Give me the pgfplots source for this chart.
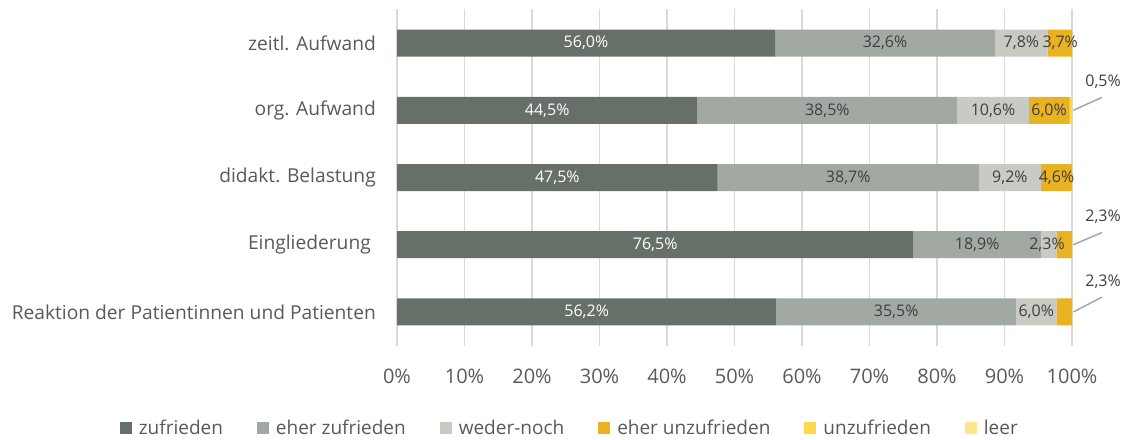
\documentclass[border=0pt]{standalone}
\usepackage{fontspec}
\setmainfont{Open Sans}
\usepackage{pgfplots}
\pgfplotsset{compat=1.18}
\definecolor{c1}{HTML}{667068}
\definecolor{c2}{HTML}{A2A9A3}
\definecolor{c3}{HTML}{C9CAC4}
\definecolor{c4}{HTML}{E9B221}
\definecolor{c5}{HTML}{FFD84E}
\definecolor{c6}{HTML}{FFE48C}
\definecolor{gridc}{HTML}{D9D9D9}
\definecolor{txt}{HTML}{595959}
\definecolor{dtxt}{HTML}{404040}
\definecolor{linec}{HTML}{A6A6A6}
\begin{document}
\begin{tikzpicture}[x=1pt,y=1pt]
\useasboundingbox (0,0) rectangle (1123,439);
\begin{axis}[
  at={(397pt,93.4pt)}, anchor=south west, scale only axis,
  width=675pt, height=336.2pt,
  xbar stacked, bar width=27pt,
  xmin=0, xmax=100, ymin=-0.5, ymax=4.5,
  xtick={0,10,20,30,40,50,60,70,80,90,100},
  xticklabels={0\%,10\%,20\%,30\%,40\%,50\%,60\%,70\%,80\%,90\%,100\%},
  ytick={0,1,2,3,4},
  yticklabels={Reaktion der Patientinnen und Patienten,Eingliederung\hspace*{5pt},didakt. Belastung,org. Aufwand,zeitl. Aufwand},
  axis line style={draw=none},
  tick style={draw=none},
  xmajorgrids, grid style={color=gridc, line width=1.5pt},
  xticklabel style={font=\fontsize{20}{24}\selectfont, text=txt, inner sep=0pt, anchor=north, yshift=-23pt},
  yticklabel style={font=\fontsize{19.2}{22}\selectfont, text=txt, inner sep=0pt, anchor=east, xshift=-21pt},
  legend columns=6,
  legend style={draw=none, fill=none, at={(0.256,-0.245)}, anchor=center,
    font=\fontsize{19}{22}\selectfont, text=txt,
    /tikz/every odd column/.append style={column sep=5pt},
    /tikz/every even column/.append style={column sep=32pt}},
  legend cell align=left,
]
\addplot[fill=c1, draw=none, legend image code/.code={\fill[c1] (0pt,-6pt) rectangle (12pt,6pt);}]
  coordinates {(56.0,4) (44.5,3) (47.5,2) (76.5,1) (56.2,0)};
\addlegendentry{zufrieden}
\addplot[fill=c2, draw=none, legend image code/.code={\fill[c2] (0pt,-6pt) rectangle (12pt,6pt);}]
  coordinates {(32.6,4) (38.5,3) (38.7,2) (18.9,1) (35.5,0)};
\addlegendentry{eher zufrieden}
\addplot[fill=c3, draw=none, legend image code/.code={\fill[c3] (0pt,-6pt) rectangle (12pt,6pt);}]
  coordinates {(7.8,4) (10.6,3) (9.2,2) (2.3,1) (6.0,0)};
\addlegendentry{weder-noch}
\addplot[fill=c4, draw=none, legend image code/.code={\fill[c4] (0pt,-6pt) rectangle (12pt,6pt);}]
  coordinates {(3.7,4) (6.0,3) (4.6,2) (2.3,1) (2.3,0)};
\addlegendentry{eher unzufrieden}
\addplot[fill=c5, draw=none, legend image code/.code={\fill[c5] (0pt,-6pt) rectangle (12pt,6pt);}]
  coordinates {(0,4) (0.5,3) (0,2) (0,1) (0,0)};
\addlegendentry{unzufrieden}
\addplot[fill=c6, draw=none, legend image code/.code={\fill[c6] (0pt,-6pt) rectangle (12pt,6pt);}]
  coordinates {(0,4) (0,3) (0,2) (0,1) (0,0)};
\addlegendentry{leer}
\end{axis}
\begin{axis}[
  at={(397pt,93.4pt)}, anchor=south west, scale only axis,
  width=675pt, height=336.2pt,
  xmin=0, xmax=100, ymin=-0.5, ymax=4.5,
  hide axis, clip=false,
]
% labels on dark segments
\addplot[draw=none, nodes near coords, point meta=explicit symbolic,
  every node near coord/.append style={anchor=center, text=white, font=\fontsize{16}{19}\selectfont}]
  coordinates {(28.0,4) [56,0\%] (22.25,3) [44,5\%] (23.75,2) [47,5\%] (38.25,1) [76,5\%] (28.1,0) [56,2\%]};
% labels on light segments
\addplot[draw=none, nodes near coords, point meta=explicit symbolic,
  every node near coord/.append style={anchor=center, text=dtxt, font=\fontsize{16}{19}\selectfont}]
  coordinates {(72.3,4) [32,6\%] (63.75,3) [38,5\%] (66.85,2) [38,7\%] (85.95,1) [18,9\%] (73.95,0) [35,5\%]
               (92.5,4) [7,8\%] (88.3,3) [10,6\%] (90.8,2) [9,2\%] (96.3,1) [2,3\%] (94.7,0) [6,0\%]
               (98.25,4) [3,7\%] (96.6,3) [6,0\%] (97.7,2) [4,6\%]};
% callouts
\addplot[color=linec, line width=1.5pt] coordinates {(100.2,3) (104.4,3.19)};
\addplot[color=linec, line width=1.5pt] coordinates {(100.2,1) (104.4,1.18)};
\addplot[color=linec, line width=1.5pt] coordinates {(100.2,0) (104.4,0.22)};
\addplot[draw=none, nodes near coords, point meta=explicit symbolic,
  every node near coord/.append style={anchor=center, text=dtxt, font=\fontsize{16}{19}\selectfont}]
  coordinates {(104.6,3.43) [0,5\%] (104.6,1.42) [2,3\%] (104.6,0.45) [2,3\%]};
\end{axis}
\end{tikzpicture}
\end{document}
